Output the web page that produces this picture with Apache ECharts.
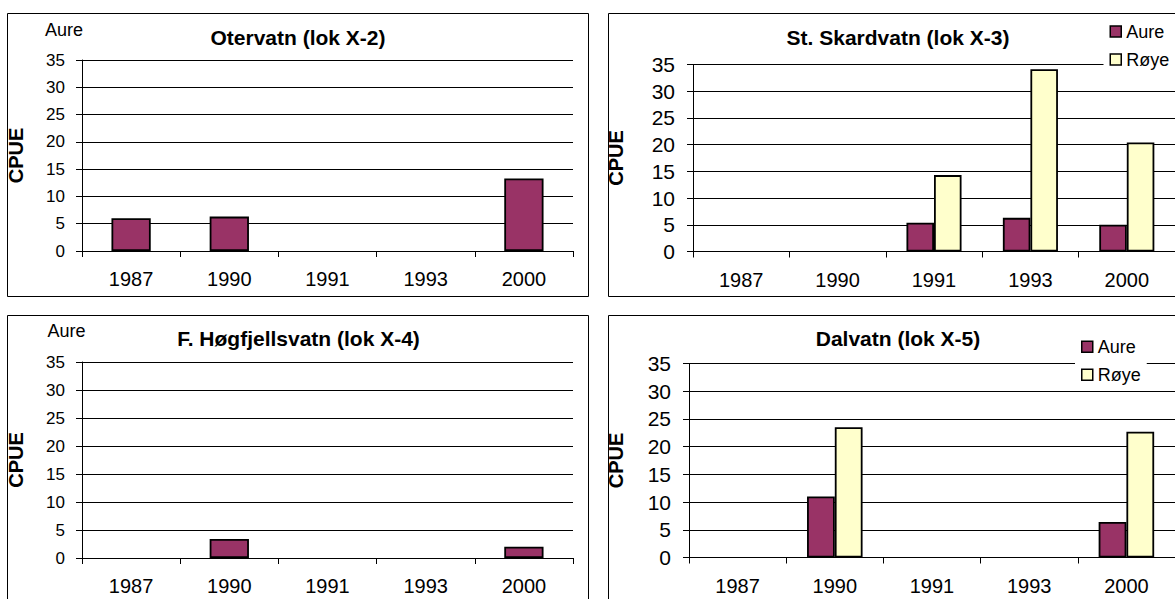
<!DOCTYPE html>
<html><head><meta charset="utf-8">
<script src="https://cdn.jsdelivr.net/npm/echarts@6/dist/echarts.min.js"></script>
<style>html,body{margin:0;padding:0;background:#fff}#c{width:1175px;height:599px}</style>
</head><body><div id="c"></div>
<script>
// ---- data ----
const years = ['1987', '1990', '1991', '1993', '2000'];
const otervatnAure  = [6.0, 6.3, null, null, 13.3];
const skardvatnAure = [null, null, 5.4, 6.3, 5.0];
const skardvatnRoye = [null, null, 14.3, 34.1, 20.4];
const hogfjellAure  = [null, 3.4, null, null, 2.0];
const dalvatnAure   = [null, 11.0, null, null, 6.4];
const dalvatnRoye   = [null, 23.5, null, null, 22.7];
const yMin = 0, yMax = 35, yStep = 5;
const titles = ['Otervatn (lok X-2)', 'St. Skardvatn (lok X-3)', 'F. Høgfjellsvatn (lok X-4)', 'Dalvatn (lok X-5)'];
const speciesNames = ['Aure', 'Røye'];
const yName = 'CPUE';

// ---- layout / style ----
const FONT = '"Liberation Sans", Arial, sans-serif';
const AURE_COLOR = '#993366', ROYE_COLOR = '#FFFFCC';
const grids = [
  {left: 82,  top: 60,    width: 491, height: 191},
  {left: 693, top: 64.5,  width: 488, height: 187},
  {left: 82,  top: 362,   width: 491, height: 196},
  {left: 689, top: 363.5, width: 499, height: 194}
];
const yLabelSize = [17, 21, 17, 21];
const yLabelMargin = [17, 18, 17, 18];
const yNameGap = [56, 67, 56, 63.5];
const titlePos = [[298, 37.5], [898, 37], [298.5, 338], [898, 338]];

const xAxes = grids.map((g, i) => ({
  type: 'category', gridIndex: i, data: years,
  axisLine: {lineStyle: {color: '#000', width: 1}},
  axisTick: {show: true, length: 6, interval: 0, lineStyle: {color: '#000'}},
  axisLabel: {fontSize: 20, color: '#000', fontFamily: FONT, margin: 18, interval: 0}
}));
const yAxes = grids.map((g, i) => ({
  type: 'value', gridIndex: i, min: yMin, max: yMax, interval: yStep,
  axisLine: {show: true, lineStyle: {color: '#000'}},
  axisTick: {show: true, length: 6, lineStyle: {color: '#000'}},
  axisLabel: {fontSize: yLabelSize[i], color: '#000', fontFamily: FONT, margin: yLabelMargin[i]},
  splitLine: {show: true, lineStyle: {color: '#000', width: 1}},
  name: yName, nameLocation: 'middle', nameRotate: 90, nameGap: yNameGap[i],
  nameTextStyle: {fontWeight: 'bold', fontSize: 20, color: '#000', fontFamily: FONT}
}));

function bar(name, data, idx, color, twoSeries) {
  return {
    type: 'bar', name: name, data: data, xAxisIndex: idx, yAxisIndex: idx,
    barGap: '0%', barCategoryGap: twoSeries ? '42.86%' : '60%',
    itemStyle: {color: color, borderColor: '#000', borderWidth: 1.8},
    emphasis: {disabled: true}
  };
}
const series = [
  bar(speciesNames[0], otervatnAure, 0, AURE_COLOR, false),
  bar(speciesNames[0], skardvatnAure, 1, AURE_COLOR, true),
  bar(speciesNames[1], skardvatnRoye, 1, ROYE_COLOR, true),
  bar(speciesNames[0], hogfjellAure, 2, AURE_COLOR, false),
  bar(speciesNames[0], dalvatnAure, 3, AURE_COLOR, true),
  bar(speciesNames[1], dalvatnRoye, 3, ROYE_COLOR, true)
];

function legend(left, top, padRight) {
  return {
    orient: 'vertical', left: left, top: top, padding: [2, padRight, 2, 6],
    itemWidth: 11, itemHeight: 11, itemGap: 10, icon: 'rect',
    backgroundColor: '#fff', selectedMode: false,
    data: speciesNames,
    textStyle: {fontSize: 18, color: '#000', fontFamily: FONT},
    itemStyle: {borderColor: '#000', borderWidth: 1.5}
  };
}

const graphics = [];
[[7.5, 13.5, 581, 283], [608.5, 13.5, 620, 283], [7.5, 315.5, 581, 320], [608.5, 315.5, 620, 320]]
  .forEach(r => graphics.push({type: 'rect', shape: {x: r[0], y: r[1], width: r[2], height: r[3]},
    style: {fill: 'none', stroke: '#000', lineWidth: 1}, silent: true}));
titles.forEach((t, i) => graphics.push({type: 'text', x: titlePos[i][0], y: titlePos[i][1],
  style: {text: t, font: 'bold 21px ' + FONT, fill: '#000', textAlign: 'center', textVerticalAlign: 'middle', align: 'center', verticalAlign: 'middle'}}));
[[64, 30], [66.5, 331]].forEach(p => graphics.push({type: 'text', x: p[0], y: p[1],
  style: {text: speciesNames[0], font: '18px ' + FONT, fill: '#000', textAlign: 'center', textVerticalAlign: 'middle', align: 'center', verticalAlign: 'middle'}}));

const chart = echarts.init(document.getElementById('c'), null, {renderer: 'svg'});
chart.setOption({
  animation: false,
  textStyle: {fontFamily: FONT},
  grid: grids,
  xAxis: xAxes,
  yAxis: yAxes,
  legend: [legend(1103.5, 20.5, 20), legend(1075, 335.7, 6)],
  series: series,
  graphic: graphics
});
</script>
</body></html>
